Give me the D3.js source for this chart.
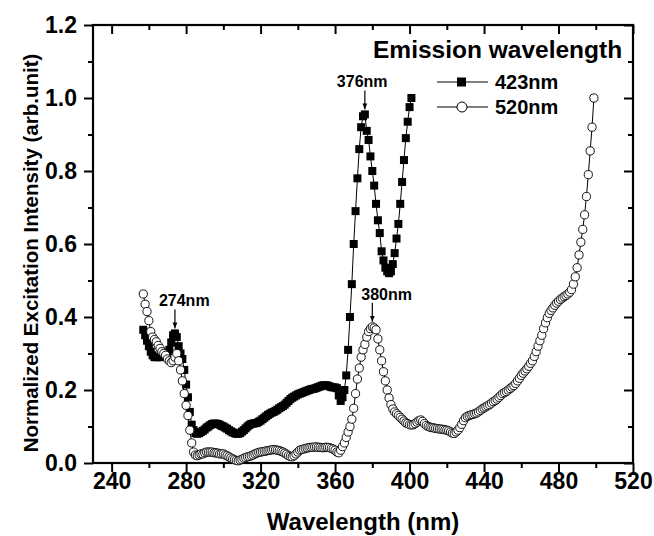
<!DOCTYPE html>
<html>
<head>
<meta charset="utf-8">
<script src="https://cdn.jsdelivr.net/npm/d3@7"></script>
<style>
  body { margin: 0; background: #fff; }
  text { font-family: "Liberation Sans", Arial, sans-serif; font-weight: bold; fill: #000; }
</style>
</head>
<body>
<svg id="chart" width="654" height="536"></svg>
<script>
// excitation spectra, 1 nm sampling
var start423 = 257;
var em423 = [
  0.365, 0.35, 0.335, 0.32, 0.305, 0.295, 0.29, 0.29, 0.29, 0.29,
  0.295, 0.298, 0.3, 0.303, 0.31, 0.33, 0.35, 0.355, 0.345, 0.32,
  0.3, 0.285, 0.255, 0.215, 0.18, 0.14, 0.105, 0.09, 0.082, 0.08,
  0.082, 0.085, 0.088, 0.092, 0.097, 0.1, 0.104, 0.107, 0.108, 0.108,
  0.107, 0.105, 0.102, 0.1, 0.097, 0.094, 0.09, 0.087, 0.084, 0.082,
  0.08, 0.08, 0.082, 0.086, 0.09, 0.095, 0.1, 0.104, 0.107, 0.108,
  0.109, 0.11, 0.113, 0.116, 0.12, 0.124, 0.128, 0.132, 0.135, 0.138,
  0.14, 0.143, 0.146, 0.15, 0.153, 0.156, 0.16, 0.165, 0.17, 0.175,
  0.179, 0.182, 0.185, 0.188, 0.19, 0.192, 0.194, 0.196, 0.198, 0.2,
  0.202, 0.203, 0.204, 0.206, 0.208, 0.21, 0.212, 0.213, 0.213, 0.212,
  0.21, 0.208, 0.207, 0.207, 0.205, 0.185, 0.17, 0.18, 0.2, 0.24,
  0.31, 0.4, 0.49, 0.6, 0.69, 0.78, 0.86, 0.92, 0.95, 0.955,
  0.91, 0.885, 0.84, 0.8, 0.76, 0.71, 0.665, 0.63, 0.58, 0.555,
  0.535, 0.525, 0.52, 0.525, 0.545, 0.575, 0.615, 0.655, 0.71, 0.77,
  0.83, 0.89, 0.935, 0.975, 1.0
];

var start520 = 257;
var em520 = [
  0.463, 0.435, 0.415, 0.39, 0.36, 0.345, 0.338, 0.332, 0.322, 0.314,
  0.305, 0.3, 0.295, 0.285, 0.28, 0.275, 0.28, 0.29, 0.3, 0.28,
  0.255, 0.225, 0.19, 0.158, 0.13, 0.09, 0.055, 0.03, 0.022, 0.02,
  0.022, 0.025, 0.025, 0.028, 0.03, 0.03, 0.03, 0.03, 0.028, 0.028,
  0.027, 0.025, 0.025, 0.025, 0.022, 0.02, 0.017, 0.014, 0.011, 0.009,
  0.007, 0.006, 0.008, 0.01, 0.013, 0.015, 0.017, 0.018, 0.02, 0.022,
  0.025, 0.027, 0.029, 0.03, 0.031, 0.032, 0.033, 0.034, 0.035, 0.036,
  0.037, 0.036, 0.035, 0.034, 0.032, 0.03, 0.027, 0.024, 0.02, 0.018,
  0.017, 0.02, 0.025, 0.03, 0.035, 0.037, 0.038, 0.04, 0.041, 0.042,
  0.043, 0.043, 0.044, 0.044, 0.043, 0.043, 0.042, 0.042, 0.043, 0.043,
  0.042, 0.04, 0.038, 0.035, 0.03, 0.028, 0.035, 0.045, 0.055, 0.07,
  0.085, 0.1, 0.12, 0.15, 0.19, 0.23, 0.26, 0.29, 0.31, 0.325,
  0.345, 0.36, 0.368, 0.373, 0.37, 0.365, 0.34, 0.31, 0.28, 0.25,
  0.225, 0.2, 0.178, 0.16, 0.148, 0.14, 0.135, 0.13, 0.125, 0.12,
  0.115, 0.11, 0.108, 0.105, 0.104, 0.105, 0.108, 0.112, 0.116, 0.118,
  0.114, 0.108, 0.103, 0.1, 0.098, 0.097, 0.096, 0.095, 0.094, 0.093,
  0.093, 0.092, 0.091, 0.09, 0.088, 0.085, 0.082, 0.081, 0.085, 0.09,
  0.097, 0.106, 0.116, 0.124, 0.128, 0.13, 0.132, 0.133, 0.135, 0.137,
  0.14, 0.144, 0.148, 0.151, 0.154, 0.157, 0.16, 0.164, 0.168, 0.171,
  0.175, 0.18, 0.185, 0.19, 0.193, 0.196, 0.2, 0.204, 0.208, 0.212,
  0.218, 0.225, 0.232, 0.24, 0.246, 0.252, 0.258, 0.265, 0.273, 0.28,
  0.292, 0.305, 0.32, 0.335, 0.35, 0.368, 0.384, 0.398, 0.41, 0.418,
  0.425, 0.432, 0.438, 0.443, 0.448, 0.452, 0.456, 0.459, 0.463, 0.468,
  0.475, 0.49, 0.51, 0.535, 0.57, 0.605, 0.64, 0.68, 0.73, 0.79,
  0.855, 0.92, 1.0
];

var xMajor = [240, 280, 320, 360, 400, 440, 480, 520];
var xMinor = [260, 300, 340, 380, 420, 460, 500];
var yMajor = [0, 0.2, 0.4, 0.6, 0.8, 1.0, 1.2];
var yMinor = [0.1, 0.3, 0.5, 0.7, 0.9, 1.1];

var legendTitle = "Emission wavelength";
var seriesNames = ["423nm", "520nm"];
var peakLabels = [
  { nm: 274, text: "274nm", series: "423" },
  { nm: 376, text: "376nm", series: "423" },
  { nm: 380, text: "380nm", series: "520" }
];

var svg = d3.select("#chart"),
  mLeft = 93, mRight = 633, mTop = 25, mBottom = 463;

var x = d3.scaleLinear().domain([230, 520]).range([mLeft, mRight]);
var y = d3.scaleLinear().domain([0, 1.2]).range([mBottom, mTop]);

function toPoints(start, vals) {
  return vals.map(function (v, i) { return { nm: start + i, v: v }; });
}
var pts423 = toPoints(start423, em423);
var pts520 = toPoints(start520, em520);

// axes: major + minor, bottom/left outward, top/right inward
function styleAxis(g) {
  g.select(".domain").remove();
  g.selectAll("line").attr("stroke", "#000").attr("stroke-width", 2);
  g.selectAll("text")
    .style("font-size", "23px")
    .style("font-family", "'Liberation Sans', Arial, sans-serif")
    .style("font-weight", "bold")
    .attr("fill", "#000");
}

function addAxis(axis, tx, ty) {
  svg.append("g").attr("transform", "translate(" + tx + "," + ty + ")")
    .call(axis).call(styleAxis);
}

addAxis(d3.axisBottom(x).tickValues(xMajor).tickSize(9).tickPadding(1).tickFormat(d3.format("d")), 0, mBottom);
addAxis(d3.axisBottom(x).tickValues(xMinor).tickSize(5).tickFormat(""), 0, mBottom);
addAxis(d3.axisLeft(y).tickValues(yMajor).tickSize(9).tickPadding(7).tickFormat(d3.format(".1f")), mLeft, 0);
addAxis(d3.axisLeft(y).tickValues(yMinor).tickSize(5).tickFormat(""), mLeft, 0);
addAxis(d3.axisTop(x).tickValues(xMajor).tickSize(-9).tickFormat(""), 0, mTop);
addAxis(d3.axisTop(x).tickValues(xMinor).tickSize(-5).tickFormat(""), 0, mTop);
addAxis(d3.axisRight(y).tickValues(yMajor).tickSize(-9).tickFormat(""), mRight, 0);
addAxis(d3.axisRight(y).tickValues(yMinor).tickSize(-5).tickFormat(""), mRight, 0);

svg.append("rect")
  .attr("x", mLeft).attr("y", mTop)
  .attr("width", mRight - mLeft).attr("height", mBottom - mTop)
  .attr("fill", "none").attr("stroke", "#000").attr("stroke-width", 2.2);

// axis titles
svg.append("text")
  .attr("x", 363).attr("y", 530)
  .attr("text-anchor", "middle")
  .style("font-size", "24px")
  .text("Wavelength (nm)");
svg.append("text")
  .attr("transform", "translate(38,253) rotate(-90)")
  .attr("text-anchor", "middle")
  .style("font-size", "20.5px")
  .text("Normalized Excitation Intensity (arb.unit)");

// series
var line = d3.line().x(d => x(d.nm)).y(d => y(d.v));
var plot = svg.append("g");

plot.append("path").datum(pts423)
  .attr("d", line).attr("fill", "none").attr("stroke", "#000").attr("stroke-width", 1);
plot.selectAll(".sq").data(pts423).enter().append("rect")
  .attr("class", "sq")
  .attr("x", d => x(d.nm) - 4).attr("y", d => y(d.v) - 4)
  .attr("width", 8).attr("height", 8)
  .attr("fill", "#000");

plot.append("path").datum(pts520)
  .attr("d", line).attr("fill", "none").attr("stroke", "#000").attr("stroke-width", 1);
plot.selectAll(".ci").data(pts520).enter().append("circle")
  .attr("class", "ci")
  .attr("cx", d => x(d.nm)).attr("cy", d => y(d.v))
  .attr("r", 4.1)
  .attr("fill", "#fff").attr("stroke", "#000").attr("stroke-width", 0.9);

// peak annotations with arrows
svg.append("defs").append("marker")
  .attr("id", "arr").attr("viewBox", "0 0 10 10")
  .attr("refX", 10).attr("refY", 5)
  .attr("markerWidth", 5).attr("markerHeight", 6)
  .attr("orient", "auto")
  .append("path").attr("d", "M0,1 L10,5 L0,9 Z").attr("fill", "#000");

peakLabels.forEach(function (p) {
  var pts = p.series === "423" ? pts423 : pts520;
  var d = pts.find(q => q.nm === p.nm);
  var px = x(d.nm), tip = y(d.v) - 5;
  var shift = p.series === "520" ? -11 : (p.nm === 274 ? -16 : -28);
  svg.append("line")
    .attr("x1", px).attr("y1", tip - 19)
    .attr("x2", px).attr("y2", tip)
    .attr("stroke", "#000").attr("stroke-width", 1.2)
    .attr("marker-end", "url(#arr)");
  svg.append("text")
    .attr("x", px + shift).attr("y", tip - 22)
    .style("font-size", "16px")
    .text(p.text);
});

// legend
svg.append("text").attr("x", 373).attr("y", 58)
  .style("font-size", "24.5px").text(legendTitle);
seriesNames.forEach(function (name, i) {
  var ly = 82 + i * 25;
  svg.append("line").attr("x1", 437).attr("x2", 488).attr("y1", ly).attr("y2", ly)
    .attr("stroke", "#000").attr("stroke-width", 1);
  if (i === 0) {
    svg.append("rect").attr("x", 457).attr("y", ly - 4.5).attr("width", 9).attr("height", 9).attr("fill", "#000");
  } else {
    svg.append("circle").attr("cx", 462).attr("cy", ly).attr("r", 5)
      .attr("fill", "#fff").attr("stroke", "#000").attr("stroke-width", 1);
  }
  svg.append("text").attr("x", 495).attr("y", ly + 7)
    .style("font-size", "20px").text(name);
});
</script>
</body>
</html>
